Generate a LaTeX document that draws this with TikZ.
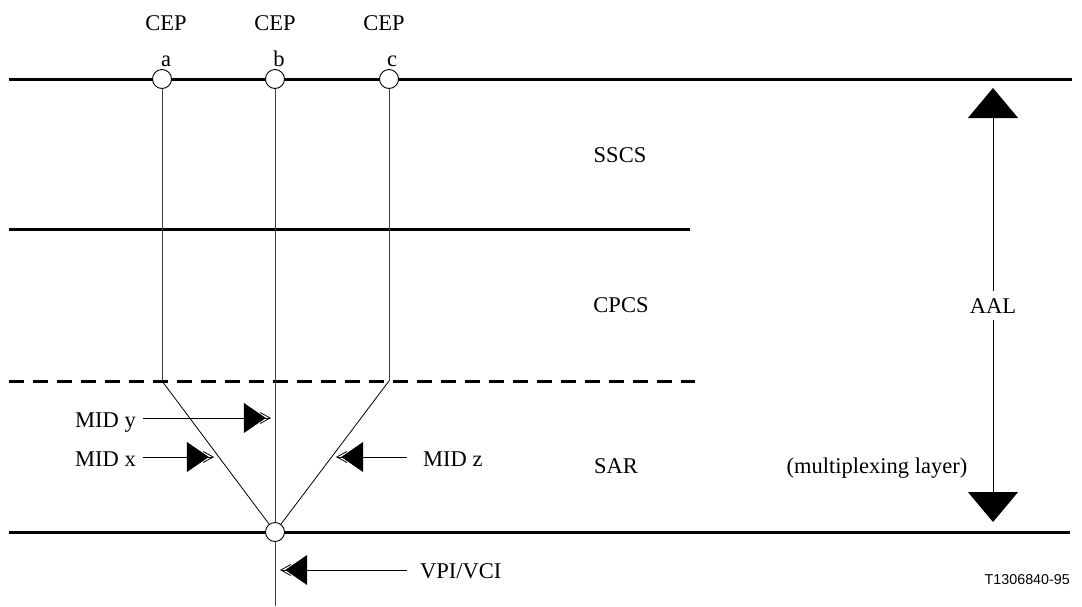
\documentclass[tikz,border=0pt]{standalone}
\usepackage{fontspec}
\setmainfont{Liberation Serif}
\newfontfamily\arialfont{Liberation Sans}
\usetikzlibrary{arrows.meta}
\begin{document}
\begin{tikzpicture}[x=1pt,y=1pt,
  thickline/.style={line width=3pt},
  dashline/.style={line width=3pt,dash pattern=on 15pt off 9pt},
  thinv/.style={line width=1pt,black!75},
  diag/.style={line width=0.8pt},
  cepnode/.style={circle,draw,fill=white,line width=0.9pt,minimum size=19pt,inner sep=0pt},
  lbl/.style={font=\fontsize{22.5}{27}\selectfont,inner sep=0pt},
  midarrow/.style={line width=0.8pt,-{Triangle[length=22pt,width=30pt,sep=-6pt]Straight Barb[length=10pt,width=11pt,sep=-6pt]}},
  aalarrow/.style={line width=1pt,-{Triangle[length=30pt,width=50pt]}}
]
\useasboundingbox (0,0) rectangle (1082,-606);

% horizontal layer lines
\coordinate (t1) at (9,-79);   \coordinate (t2) at (1072,-79);
\coordinate (m1) at (9,-229);  \coordinate (m2) at (690,-229);
\coordinate (d1) at (9,-381);  \coordinate (d2) at (695,-381);
\coordinate (b1) at (9,-532);  \coordinate (b2) at (1070,-532);
\draw[thickline] (t1) -- (t2);
\draw[thickline] (m1) -- (m2);
\draw[dashline] (d1) -- (d2);
\draw[thickline] (b1) -- (b2);

% vertical connection lines
\coordinate (va) at (162,-381);
\coordinate (vc) at (389,-381);
\coordinate (vend) at (275,-606);
\node[cepnode] (ca) at (162,-79) {};
\node[cepnode] (cb) at (275,-79) {};
\node[cepnode] (cc) at (389,-79) {};
\node[cepnode] (cbot) at (275,-532) {};
\draw[thinv] (ca) -- (va);
\draw[thinv] (cc) -- (vc);
\draw[thinv] (cb) -- (cbot);
\draw[thinv] (cbot) -- (vend);
\draw[diag] (va) -- (cbot);
\draw[diag] (vc) -- (cbot);

% CEP labels
\node[lbl,anchor=base] (cep1) at (166,-30) {CEP};
\node[lbl,anchor=base] (cep2) at (275,-30) {CEP};
\node[lbl,anchor=base] (cep3) at (384,-30) {CEP};
\node[lbl,anchor=base] (la) at (166,-66) {a};
\node[lbl,anchor=base] (lb) at (279,-66) {b};
\node[lbl,anchor=base] (lc) at (392,-66) {c};

% layer names
\node[lbl,anchor=base] (sscs) at (620,-162) {SSCS};
\node[lbl,anchor=base] (cpcs) at (621,-312) {CPCS};
\node[lbl,anchor=base] (sar) at (616,-473) {SAR};
\node[lbl,anchor=base] (mux) at (877,-473) {(multiplexing layer)};

% MID arrows
\node[lbl,anchor=base west] (midy) at (75,-427) {MID y};
\node[lbl,anchor=base west] (midx) at (75,-466) {MID x};
\node[lbl,anchor=base west] (midz) at (423,-466) {MID z};
\node[lbl,anchor=base west] (vpi) at (420,-578) {VPI/VCI};
\coordinate (ys) at (143,-418); \coordinate (ye) at (265,-418);
\coordinate (xs) at (143,-457); \coordinate (xe) at (208,-457);
\coordinate (zs) at (407,-457); \coordinate (ze) at (342,-457);
\coordinate (vs) at (407,-570); \coordinate (ve) at (286,-570);
\draw[midarrow] (ys) -- (ye);
\draw[midarrow] (xs) -- (xe);
\draw[midarrow] (zs) -- (ze);
\draw[midarrow] (vs) -- (ve);

% AAL arrow
\node[lbl,anchor=base] (aal) at (993,-313) {AAL};
\coordinate (aaltop) at (993,-88);
\coordinate (aalbot) at (993,-522);
\draw[aalarrow] (aal.north) ++(0,7) -- (aaltop);
\draw[aalarrow] (aal.south) ++(0,-7) -- (aalbot);

% figure id
\node[font=\arialfont\fontsize{14.3}{17}\selectfont,inner sep=0pt,anchor=base east] (fid) at (1070,-584) {T1306840-95};
\end{tikzpicture}
\end{document}
